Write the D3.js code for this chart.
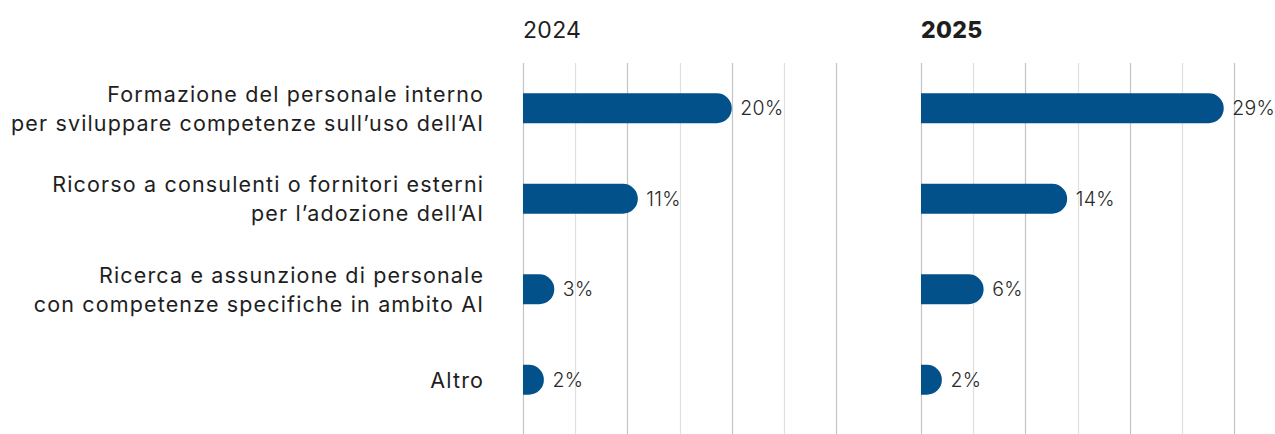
<!DOCTYPE html>
<html><head><meta charset="utf-8">
<script src="https://cdn.jsdelivr.net/npm/d3@7"></script>
<style>html,body{margin:0;padding:0;background:#fff;}svg{display:block;font-family:Inter,"Noto Sans",sans-serif;}</style>
</head><body>
<svg id="chart" width="1275" height="434"></svg>
<script>
const categories = [
  ["Formazione del personale interno", "per sviluppare competenze sull’uso dell’AI"],
  ["Ricorso a consulenti o fornitori esterni", "per l’adozione dell’AI"],
  ["Ricerca e assunzione di personale", "con competenze specifiche in ambito AI"],
  ["Altro"]
];
const panels = ["2024", "2025"];
const values2024 = [20, 11, 3, 2];
const values2025 = [29, 14, 6, 2];
const gridTicks = [0, 5, 10, 15, 20, 25, 30];

const svg = d3.select("#chart");
const W = 1275, H = 434;
const BAR = "#03518a";
const labelRight = 483;
const y = d3.scaleBand().domain(d3.range(categories.length)).range([63, 425]).paddingInner(0).paddingOuter(0);
const barH = 30;

// category labels
const lineH = 29;
const ls = 1.15;
categories.forEach((lines, i) => {
  const cy = y(i) + y.bandwidth() / 2;
  const t = svg.append("text").attr("text-anchor", "end").attr("font-size", 21.5)
    .attr("letter-spacing", ls).attr("fill", "#1e1e1e");
  const n = lines.length;
  lines.forEach((l, k) => {
    t.append("tspan").attr("x", labelRight + ls)
      .attr("y", cy + (k - (n - 1) / 2) * lineH + 7.8).text(l);
  });
});

const panelDefs = [
  {name: panels[0], vals: values2024, x0: 523, bold: false},
  {name: panels[1], vals: values2025, x0: 921, bold: true}
];

function barPath(x0, x1, yc, h) {
  const w = x1 - x0;
  const r = Math.min(h / 2, w);
  const top = yc - h / 2, bot = yc + h / 2;
  return `M${x0},${top}H${x1 - r}A${r},${h/2} 0 0 1 ${x1 - r},${bot}H${x0}Z`;
}

panelDefs.forEach(p => {
  const x = d3.scaleLinear().domain([0, 30]).range([p.x0, p.x0 + 313.2]);
  const g = svg.append("g");
  g.append("text").attr("x", p.x0).attr("y", 37.5).attr("font-size", 23)
    .attr("letter-spacing", 0.3)
    .attr("font-weight", p.bold ? 800 : 400).attr("fill", "#1e1e1e").text(p.name);
  g.selectAll("line.grid").data(gridTicks).join("line")
    .attr("x1", d => Math.round(x(d)) + 0.5).attr("x2", d => Math.round(x(d)) + 0.5)
    .attr("y1", 63).attr("y2", H)
    .attr("stroke", d => d % 10 === 0 ? "#c4c4c4" : "#e0e0e0").attr("stroke-width", 1.2);
  g.selectAll("path.bar").data(p.vals).join("path")
    .attr("d", (d, i) => barPath(x(0), x(d), y(i) + y.bandwidth() / 2, barH))
    .attr("fill", BAR);
  g.selectAll("text.val").data(p.vals).join("text")
    .attr("x", d => x(d) + 8.5).attr("y", (d, i) => y(i) + y.bandwidth() / 2 + 7)
    .attr("font-size", 19.5).attr("letter-spacing", 0.3).attr("font-weight", 300)
    .attr("fill", "#2a2a2a").text(d => d + "%");
});
</script>
</body></html>
